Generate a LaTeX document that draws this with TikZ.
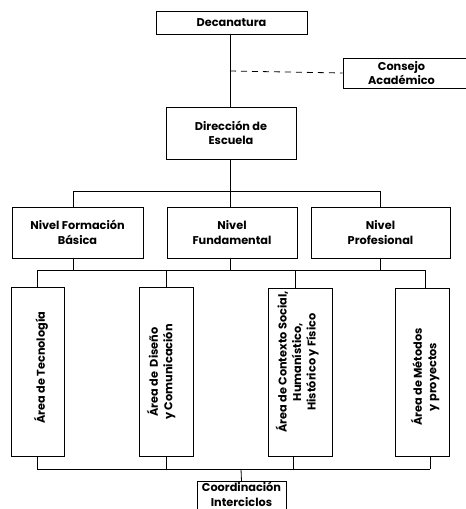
\documentclass[tikz,border=0pt]{standalone}
\usepackage{fontspec}
\setmainfont{Poppins}
\begin{document}
\begin{tikzpicture}[x=1pt,y=-1pt,
  txt/.style={font=\fontsize{11.3}{14.5}\selectfont\bfseries,align=center},
  box/.style={draw=black,line width=0.8pt,fill=white,inner sep=0pt,txt},
  vtxt/.style={txt,rotate=90,inner sep=0pt},
  ln/.style={draw=black,line width=0.8pt},
  dsh/.style={draw=black,line width=0.8pt,dash pattern=on 6pt off 5pt}]
\useasboundingbox (0,0) rectangle (466,509);
\clip (0,0) rectangle (466,509);
% top
\node[box,minimum width=151pt,minimum height=23pt] (dec) at (231.5,22.5) {Decanatura};
\node[box,minimum width=123pt,minimum height=30pt] (cons) at (404.5,73) {\hspace*{-6pt}Consejo\\\hspace*{-6pt}Académico};
\node[box,minimum width=130pt,minimum height=52pt] (dir) at (231,133) {Dirección de\\Escuela};
\coordinate (dj) at (230,71);
\draw[ln] (230,34) -- (230,107);
\draw[dsh] (dj) -- (cons.west);
% niveles
\node[box,minimum width=131pt,minimum height=51pt] (n1) at (77.5,232.5) {Nivel Formación\\Básica};
\node[box,minimum width=130pt,minimum height=51pt] (n2) at (232,232.5) {Nivel\\Fundamental};
\node[box,minimum width=139pt,minimum height=51pt] (n3) at (380.5,232.5) {Nivel\\Profesional};
\coordinate (h1a) at (73,191);
\coordinate (h1b) at (380,191);
\draw[ln] (230,159) -- (230,191);
\draw[ln] (73,207) -- (h1a) -- (h1b) -- (380,207);
\draw[ln] (230,191) -- (230,207);
% areas
\node[box,minimum width=53pt,minimum height=169pt] (a1) at (37.5,371.5) {};
\node[box,minimum width=54pt,minimum height=169pt] (a2) at (166,371.5) {};
\node[box,minimum width=64pt,minimum height=168pt] (a3) at (300,372.5) {};
\node[box,minimum width=54pt,minimum height=168pt] (a4) at (422,372.5) {};
\node[vtxt] (t1) at (41,367.5) {Área de Tecnología};
\node[vtxt] (t2) at (161,372) {Área de \ Diseño\\y Comunicación};
\node[vtxt] (t3) at (297,362) {Área de Contexto Social,\\Humanístico,\\Histórico y Físico};
\node[vtxt] (t4) at (425,377) {Área de Métodos\\y proyectos};
\draw[ln] (73,258) -- (73,270);
\draw[ln] (230,258) -- (230,270);
\draw[ln] (380,258) -- (380,270);
\draw[ln] (37,270) -- (425,270);
\draw[ln] (37,270) -- (37,287);
\draw[ln] (166,270) -- (166,287);
\draw[ln] (295,270) -- (295,289);
\draw[ln] (425,270) -- (425,289);
% bottom
\node[box,minimum width=89pt,minimum height=40pt,anchor=north] (coord) at (241.5,481) {};
\node[txt,anchor=north,inner sep=0pt] (ct) at (241.5,482) {Coordinación\\Interciclos};
\draw[ln] (37,456) -- (37,469);
\draw[ln] (166,456) -- (166,469);
\draw[ln] (293,457) -- (293,469);
\draw[ln] (430,457) -- (430,469);
\draw[ln] (37,469) -- (430,469);
\draw[ln] (241,469) -- (coord.north);
\end{tikzpicture}
\end{document}
